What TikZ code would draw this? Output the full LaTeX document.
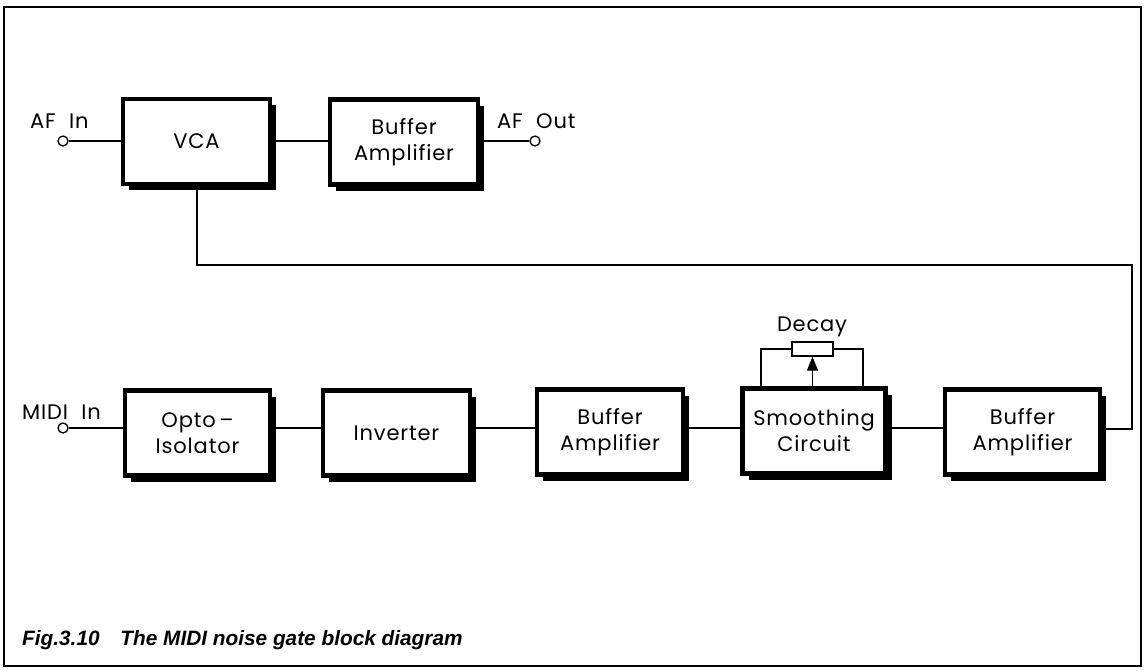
\documentclass[tikz,border=0pt]{standalone}
\usepackage{fontspec}
\setmainfont{Poppins}[LetterSpace=4]
\newfontfamily\capfont{Liberation Sans}
\usetikzlibrary{arrows.meta}
\begin{document}
\begin{tikzpicture}[x=1pt,y=-1pt,
  lbl/.style={font=\fontsize{21}{24}\selectfont, inner sep=0pt, align=center},
  term/.style={circle, draw, line width=1.3pt, fill=white, minimum size=10pt, inner sep=0pt},
  wire/.style={line width=1.3pt},
  blk/.style={draw, line width=4.5pt, fill=white, minimum width=#1, minimum height=85pt, inner sep=0pt, align=center, font=\fontsize{21}{26}\selectfont},
  blk/.default=146pt]
\useasboundingbox (0,0) rectangle (1145,670);
\draw[line width=2.5pt] (4,7) rectangle (1141,666);
% shadows
\foreach \cx/\cy/\w in {196.5/141.5/147, 404/142/148, 197.5/433/145, 396.5/433/147, 610/432/146, 814/431/143, 1022.5/432/155}{
  \fill (\cx-\w/2+6,\cy-42.5+6) rectangle (\cx+\w/2+6,\cy+42.5+6);
}
\node[blk=147pt] (vca) at (196.5,141.5) {VCA};
\node[blk=148pt] (buf1) at (404,142) {Buffer\\Amplifier};
\node[blk=145pt] (opto) at (197.5,433) {Opto\,--\\Isolator};
\node[blk=147pt] (inv) at (396.5,433) {Inverter};
\node[blk=146pt] (buf2) at (610,432) {Buffer\\Amplifier};
\node[blk=143pt] (smooth) at (814,431) {Smoothing\\Circuit};
\node[blk=155pt] (buf3) at (1022.5,432) {Buffer\\Amplifier};
% terminals
\node[term] (afin) at (63,141) {};
\node[term] (afout) at (535,141) {};
\node[term] (midiin) at (63,428) {};
\node[lbl, anchor=base west] (afinl) at (30,128) {AF\,\, In};
\node[lbl, anchor=base west] (afoutl) at (497,128) {AF\,\, Out};
\node[lbl, anchor=base west] (midil) at (22,419) {MIDI\,\, In};
% wires
\draw[wire] (afin) -- (afin -| vca.west);
\draw[wire] (vca.east |- 0,141) -- (buf1.west |- 0,141);
\draw[wire] (buf1.east |- afout) -- (afout);
\draw[wire] (midiin) -- (midiin -| opto.west);
\draw[wire] (opto.east |- 0,428) -- (inv.west |- 0,428);
\draw[wire] (inv.east |- 0,428) -- (buf2.west |- 0,428);
\draw[wire] (buf2.east |- 0,428) -- (smooth.west |- 0,428);
\draw[wire] (smooth.east |- 0,428) -- (buf3.west |- 0,428);
\coordinate (c1) at (197,265);
\coordinate (c2) at (1132,265);
\coordinate (c3) at (1132,429);
\draw[wire] (vca.south -| c1) -- (c1) -- (c2) -- (c3) -- (c3 -| buf3.east);
% decay pot
\node[draw, line width=1.3pt, minimum width=41pt, minimum height=14pt, inner sep=0pt] (pot) at (812.5,349) {};
\node[lbl] (decay) at (812,327) {Decay};
\coordinate (pl) at (761,349);
\coordinate (pr) at (863,349);
\draw[wire] (pot.west) -- (pl) -- (pl |- smooth.north);
\draw[wire] (pot.east) -- (pr) -- (pr |- smooth.north);
\draw[wire, -{Triangle[length=14pt,width=11pt]}] (pot.south |- smooth.north) -- (pot.south);
% caption
\node[anchor=base west, inner sep=0pt, font=\fontsize{20.8}{24}\capfont\itshape\bfseries] (cap) at (22,645) {Fig.3.10\quad The MIDI noise gate block diagram};
\end{tikzpicture}
\end{document}
